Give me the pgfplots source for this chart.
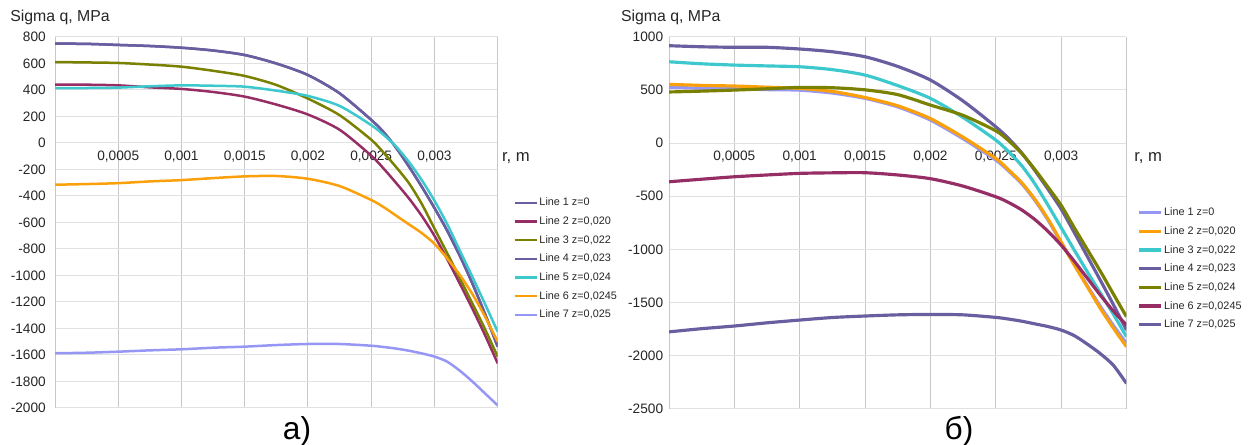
\documentclass[border=0pt]{standalone}
\usepackage{fontspec}
\setmainfont{Liberation Sans}
\usepackage{pgfplots}
\pgfplotsset{compat=1.18}
\usepackage{pgfplotstable}

\definecolor{slate}{RGB}{104,94,160}
\definecolor{mag}{RGB}{150,45,100}
\definecolor{olv}{RGB}{122,128,0}
\definecolor{cyanl}{RGB}{60,200,205}
\definecolor{orng}{RGB}{250,160,10}
\definecolor{lav}{RGB}{150,150,245}
\definecolor{vgrid}{RGB}{200,200,200}
\definecolor{hgrid}{RGB}{225,225,225}

\pgfplotstableread{
r        l1    l2    l3    l4    l5    l6    l7
0        750   440   611   750   415   -315  -1587
0.00025  748   440   608   748   415   -310  -1583
0.0005   740   435   604   740   418   -303  -1575
0.00075  732   420   592   732   428   -290  -1565
0.001    719   408   576   719   435   -280  -1557
0.00125  698   385   545   698   432   -265  -1545
0.0015   664   350   506   664   425   -252  -1537
0.00175  600   290   438   600   395   -249  -1525
0.002    513   215   335   513   355   -270  -1517
0.00225  375   100   210   375   280   -325  -1517
0.0025   175   -95   25    175   135   -430  -1530
0.0026   80    -195  -75   80    60    -485  -1540
0.0027   -40   -305  -185  -40   -30   -550  -1552
0.0028   -180  -420  -305  -180  -145  -615  -1568
0.0029   -330  -550  -460  -330  -280  -680  -1588
0.003    -490  -700  -645  -490  -435  -760  -1612
0.0031   -660  -875  -830  -660  -610  -870  -1650
0.0032   -850  -1060 -1020 -850  -810  -995  -1718
0.0033   -1060 -1250 -1210 -1060 -1010 -1140 -1800
0.0034   -1290 -1450 -1405 -1290 -1215 -1310 -1890
0.0035   -1537 -1663 -1613 -1537 -1424 -1500 -1980
}\lefttab

\pgfplotstableread{
r        l1    l2    l3    l4    l5    l6    l7
0        525   552   764   915   480   -364  -1775
0.00025  515   542   745   905   488   -340  -1745
0.0005   510   536   733   900   498   -317  -1720
0.00075  502   525   725   900   510   -300  -1690
0.001    497   514   717   884   523   -285  -1664
0.00125  470   485   690   858   520   -280  -1640
0.0015   420   428   639   811   500   -279  -1626
0.00175  340   350   540   720   455   -300  -1615
0.002    216   230   420   592   357   -335  -1611
0.00225  40    55    240   395   260   -405  -1615
0.0025   -160  -145  28    153   115   -505  -1639
0.0026   -265  -255  -85   40    20    -560  -1655
0.0027   -385  -375  -215  -95   -100  -630  -1675
0.0028   -540  -530  -385  -260  -250  -720  -1700
0.0029   -725  -715  -585  -435  -415  -830  -1725
0.003    -935  -930  -795  -620  -585  -960  -1758
0.0031   -1140 -1145 -1005 -840  -795  -1110 -1810
0.0032   -1340 -1350 -1210 -1065 -1000 -1270 -1890
0.0033   -1535 -1555 -1410 -1290 -1205 -1430 -1980
0.0034   -1715 -1740 -1610 -1520 -1420 -1580 -2090
0.0035   -1883 -1915 -1821 -1758 -1633 -1711 -2260
}\righttab

\pgfplotsset{
  mystyle/.style={
    scale only axis,
    axis x line=middle, axis y line=left,
    x axis line style={draw=hgrid, line width=0.6pt, -},
    y axis line style={draw=vgrid, line width=0.6pt, -},
    xmin=0, xmax=0.0035,
    xtick={0.0005,0.001,0.0015,0.002,0.0025,0.003},
    extra x ticks={0.0035}, extra x tick labels={},
    extra x tick style={grid=major},
    scaled x ticks=false,
    scaled y ticks=false,
    xticklabel style={/pgf/number format/use comma, /pgf/number format/fixed,
      /pgf/number format/precision=4, /pgf/number format/assume math mode=true,
      yshift=-1pt},
    yticklabel style={/pgf/number format/assume math mode=true,
      /pgf/number format/1000 sep={}},
    grid=major,
    x grid style={draw=vgrid, line width=0.6pt},
    y grid style={draw=hgrid, line width=0.6pt},
    major tick length=0pt,
    tick label style={font=\fontsize{8.2}{9}\selectfont, text=black!85},
    legend cell align=left,
    legend style={draw=none, fill=none, anchor=north west, inner sep=0pt,
      font=\fontsize{6.5}{7.5}\selectfont, text=black!85,
      nodes={inner sep=1pt, text height=4.8pt, text depth=1.2pt},
      row sep=3.2pt},
    legend image code/.code={\draw[##1] (0pt,0pt) -- (13.2pt,0pt);},
    every axis plot/.append style={line join=round, smooth, tension=0.45},
  }
}

\begin{document}
\begin{tikzpicture}
\path[use as bounding box] (0,0) rectangle (750.6pt,267pt);

\begin{axis}[mystyle,
  at={(33pt,22.2pt)}, anchor=south west,
  width=265.6pt, height=222.6pt,
  ymin=-2000, ymax=800,
  ytick={-2000,-1800,-1600,-1400,-1200,-1000,-800,-600,-400,-200,0,200,400,600,800},
  yticklabel style={xshift=-2pt},
  every axis plot/.append style={line width=1.5pt},
  legend style={at={(1.0346,0.572)}},
]
\addplot[color=slate] table[x=r,y=l1]{\lefttab};
\addplot[color=mag] table[x=r,y=l2]{\lefttab};
\addplot[color=olv] table[x=r,y=l3]{\lefttab};
\addplot[color=slate] table[x=r,y=l4]{\lefttab};
\addplot[color=cyanl] table[x=r,y=l5]{\lefttab};
\addplot[color=orng] table[x=r,y=l6]{\lefttab};
\addplot[color=lav] table[x=r,y=l7]{\lefttab};
\legend{Line 1 z=0, {Line 2 z=0,020}, {Line 3 z=0,022}, {Line 4 z=0,023}, {Line 5 z=0,024}, {Line 6 z=0,0245}, {Line 7 z=0,025}}
\end{axis}

\begin{axis}[mystyle,
  at={(401.4pt,21.6pt)}, anchor=south west,
  width=274.5pt, height=223.4pt,
  ymin=-2500, ymax=1000,
  ytick={-2500,-2000,-1500,-1000,-500,0,500,1000},
  every axis plot/.append style={line width=1.9pt},
  legend style={at={(1.023,0.546)}},
]
\addplot[color=lav] table[x=r,y=l1]{\righttab};
\addplot[color=orng] table[x=r,y=l2]{\righttab};
\addplot[color=cyanl] table[x=r,y=l3]{\righttab};
\addplot[color=slate] table[x=r,y=l4]{\righttab};
\addplot[color=olv] table[x=r,y=l5]{\righttab};
\addplot[color=mag] table[x=r,y=l6]{\righttab};
\addplot[color=slate] table[x=r,y=l7]{\righttab};
\legend{Line 1 z=0, {Line 2 z=0,020}, {Line 3 z=0,022}, {Line 4 z=0,023}, {Line 5 z=0,024}, {Line 6 z=0,0245}, {Line 7 z=0,025}}
\end{axis}

\node[anchor=west, font=\fontsize{9.5}{11}\selectfont, text=black!85, inner sep=0pt] at (6pt,256.8pt) {Sigma q, MPa};
\node[anchor=west, font=\fontsize{9.5}{11}\selectfont, text=black!85, inner sep=0pt] at (372.4pt,256.8pt) {Sigma q, MPa};
\node[anchor=west, font=\fontsize{10}{12}\selectfont, text=black!85, inner sep=0pt] at (301pt,172.2pt) {r, m};
\node[anchor=west, font=\fontsize{10}{12}\selectfont, text=black!85, inner sep=0pt] at (680.4pt,172.2pt) {r, m};
\node[font=\fontsize{19}{22}\selectfont, inner sep=0pt] at (178.2pt,8.4pt) {a)};
\node[font=\fontsize{19}{22}\selectfont, inner sep=0pt] at (575.4pt,8.4pt) {б)};
\end{tikzpicture}
\end{document}
